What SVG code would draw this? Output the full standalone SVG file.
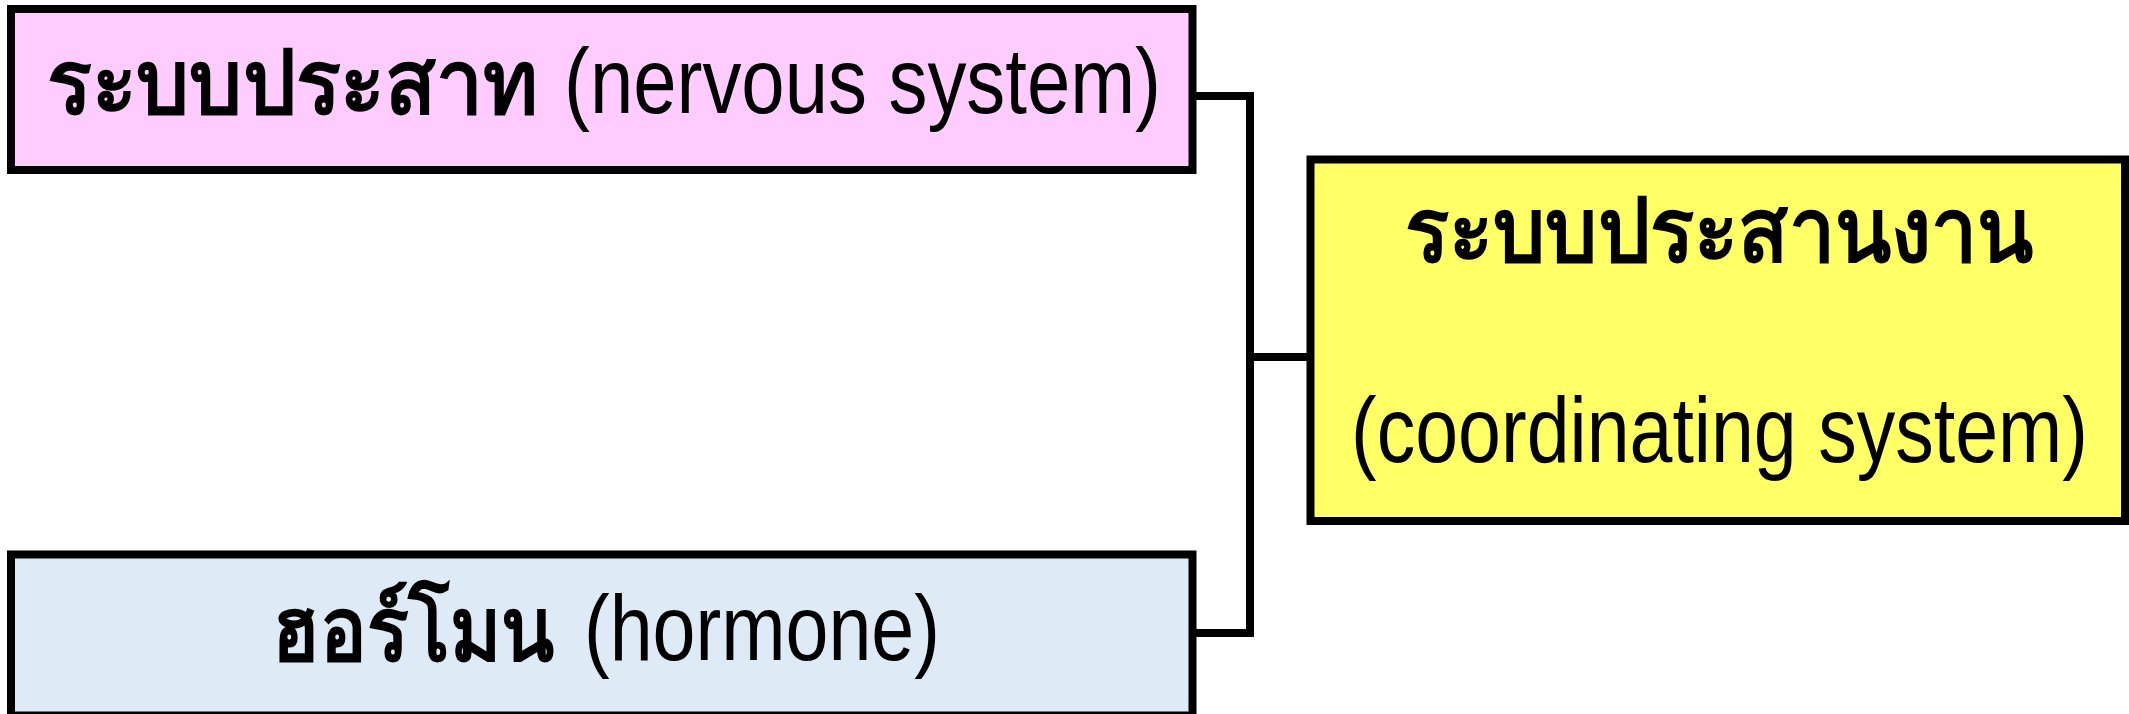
<svg xmlns="http://www.w3.org/2000/svg" width="2129" height="714" viewBox="0 0 2129 714">
<style>
.box{stroke:#000;stroke-width:8}
.th{font-family:"Liberation Sans","Noto Sans",sans-serif;font-size:88px;font-weight:bold;fill:#000}
.en{font-family:"Liberation Sans",Arial,sans-serif;font-size:92px;fill:#000}
.conn{fill:none;stroke:#000;stroke-width:8;stroke-linecap:square}
</style>
<rect width="2129" height="714" fill="#fff"/>
<g id="connectors">
<path class="conn" d="M1196 96 H1250 V633 H1196"/>
<path class="conn" d="M1250 357 H1307"/>
</g>
<g id="nervous">
<rect class="box" x="11" y="9" width="1181.5" height="161" fill="#FFCCFF"/>
<text class="th" x="47" y="113" textLength="491" lengthAdjust="spacingAndGlyphs">ระบบประสาท</text>
<text class="en" x="564" y="113" textLength="597" lengthAdjust="spacingAndGlyphs">(nervous system)</text>
</g>
<g id="hormone">
<rect class="box" x="11" y="554.5" width="1181.5" height="161" fill="#DEEAF6"/>
<text class="th" x="272" y="660" textLength="282" lengthAdjust="spacingAndGlyphs">ฮอร์โมน</text>
<text class="en" x="584" y="660" textLength="356" lengthAdjust="spacingAndGlyphs">(hormone)</text>
</g>
<g id="coordinating">
<rect class="box" x="1310.5" y="159.5" width="814.5" height="361.5" fill="#FFFF66"/>
<text class="th" x="1405" y="261" textLength="628" lengthAdjust="spacingAndGlyphs">ระบบประสานงาน</text>
<text class="en" x="1351" y="462" textLength="737" lengthAdjust="spacingAndGlyphs">(coordinating system)</text>
</g>
</svg>
